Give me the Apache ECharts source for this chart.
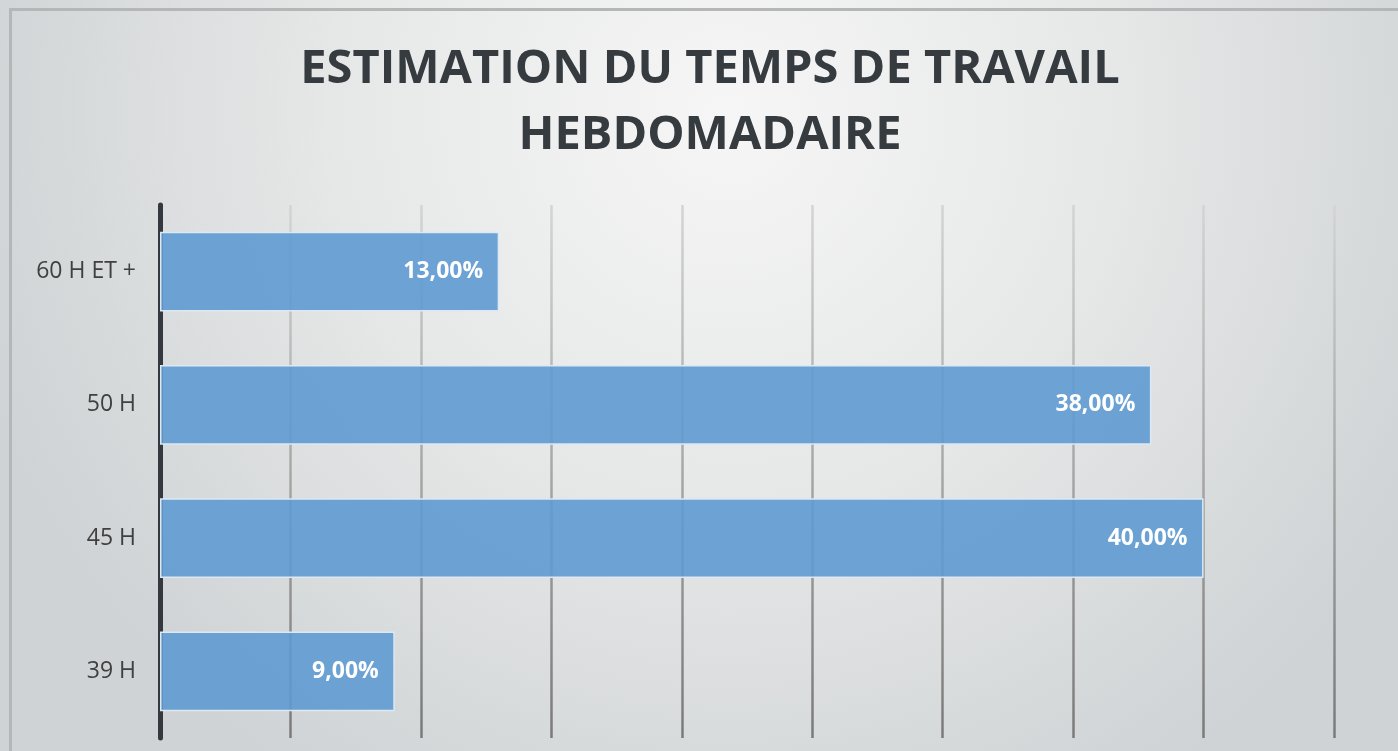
<!DOCTYPE html>
<html><head><meta charset="utf-8">
<script src="https://cdn.jsdelivr.net/npm/echarts@6/dist/echarts.min.js"></script>
<style>html,body{margin:0;padding:0;background:#fff}#c{width:1398px;height:751px}</style>
</head><body><div id="c"></div>
<script>
const categories = ['39 H', '45 H', '50 H', '60 H ET +'];
const values = [9, 40, 38, 13];
const titleLines = ['ESTIMATION DU TEMPS DE TRAVAIL', 'HEBDOMADAIRE'];

const chart = echarts.init(document.getElementById('c'));
chart.setOption({
  backgroundColor: {
    type: 'radial', x: 0.52, y: 0.15, r: 1.05,
    colorStops: [{offset: 0, color: '#f6f6f6'}, {offset: 0.5, color: '#e6e7e7'}, {offset: 1, color: '#cfd3d5'}]
  },
  graphic: [{
    type: 'rect', shape: {x: 10.5, y: 9.5, width: 1400, height: 760},
    style: {fill: 'none', stroke: '#b4b6b7', lineWidth: 3}, silent: true
  }],
  title: {
    text: titleLines.join('\n'), left: 705, top: 32, textAlign: 'center',
    textStyle: {fontFamily: 'Open Sans', fontWeight: 'bold', fontSize: 47, lineHeight: 66, color: '#363b40'}
  },
  grid: {left: 160, right: 64, top: 205, bottom: 13, containLabel: false},
  xAxis: {
    type: 'value', min: 0, max: 45, interval: 5,
    axisLabel: {show: false}, axisTick: {show: false}, axisLine: {show: false},
    splitLine: {show: true, lineStyle: {width: 2.5, color: {
      type: 'linear', x: 0, y: 205, x2: 0, y2: 738, global: true,
      colorStops: [{offset: 0, color: '#d4d4d4'}, {offset: 1, color: '#7a7a7a'}]
    }}}
  },
  yAxis: {
    type: 'category', data: categories,
    axisLine: {show: true, lineStyle: {color: '#33393e', width: 5}},
    axisTick: {show: false},
    axisLabel: {margin: 24, fontFamily: 'Open Sans', fontSize: 23, color: '#404040'}
  },
  series: [{
    type: 'bar', data: values, barWidth: '60%',
    itemStyle: {color: 'rgba(95,155,210,0.9)', borderColor: '#dce8f3', borderWidth: 1.5},
    label: {
      show: true, position: 'insideRight', distance: 16,
      formatter: p => p.value.toFixed(2).replace('.', ',') + '%',
      fontFamily: 'Open Sans', fontWeight: 'bold', fontSize: 23, color: '#ffffff'
    }
  }]
});
</script></body></html>
